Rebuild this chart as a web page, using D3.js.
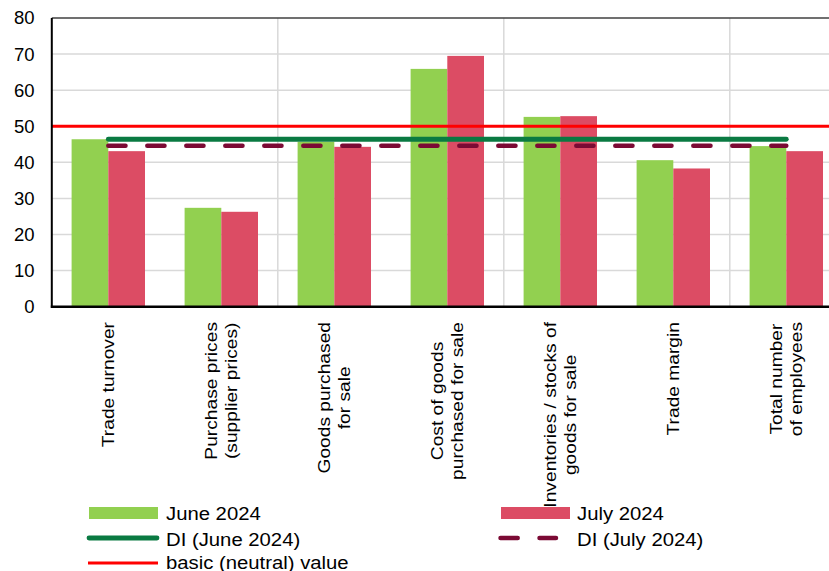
<!DOCTYPE html>
<html>
<head>
<meta charset="utf-8">
<script src="https://cdn.jsdelivr.net/npm/d3@7"></script>
<style>
  html, body { margin: 0; padding: 0; background: #fff; }
  svg { display: block; font-family: "Liberation Sans", Arial, sans-serif; }
</style>
</head>
<body>
<svg id="chart" width="829" height="571"></svg>
<script>
// ---- data ----
const categories = [
  ["Trade turnover"],
  ["Purchase prices", "(supplier prices)"],
  ["Goods purchased", "for sale"],
  ["Cost of goods", "purchased for sale"],
  ["Inventories / stocks of", "goods for sale"],
  ["Trade margin"],
  ["Total number", "of employees"]
];
const june2024 = [46.4, 27.4, 45.7, 65.9, 52.6, 40.6, 44.5];
const july2024 = [43.1, 26.3, 44.3, 69.5, 52.8, 38.3, 43.1];
const diJune = [46.4, 46.4, 46.4, 46.4, 46.4, 46.4, 46.4];
const diJuly = [44.6, 44.6, 44.6, 44.6, 44.6, 44.6, 44.6];
const neutralValue = 50;
const yTicks = [0, 10, 20, 30, 40, 50, 60, 70, 80];
const seriesNames = ["June 2024", "July 2024", "DI (June 2024)", "DI (July 2024)", "basic (neutral) value"];

// ---- styles ----
const C = {
  june: "#92d050", july: "#dc4c64", diJune: "#0a7a42", diJuly: "#7b0a34",
  neutral: "#ff0000", grid: "#d9d9d9"
};

const svg = d3.select("#chart");
const pLeft = 51.8, pTop = 18, pBottom = 306.7;
const idx = categories.map((d, i) => i);
const x = d3.scaleBand().domain(idx).range([pLeft, pLeft + 113 * categories.length]).paddingInner(0).paddingOuter(0);
const y = d3.scaleLinear().domain([0, 80]).range([pBottom, pTop]);
const barW = 36.7;
const cx = i => x(i) + x.bandwidth() / 2;

// gridlines horizontal
svg.append("g").selectAll("line").data(yTicks.filter(t => t > 0 && t < 80)).join("line")
  .attr("x1", pLeft).attr("x2", 829).attr("y1", d => y(d)).attr("y2", d => y(d))
  .attr("stroke", C.grid).attr("stroke-width", 1.5);
// vertical gridlines every 2 categories
svg.append("g").selectAll("line").data([2, 4, 6]).join("line")
  .attr("x1", d => x(d)).attr("x2", d => x(d)).attr("y1", pTop).attr("y2", pBottom)
  .attr("stroke", C.grid).attr("stroke-width", 1.5);
// top border
svg.append("line").attr("x1", pLeft).attr("x2", 829).attr("y1", y(80)).attr("y2", y(80))
  .attr("stroke", "#404040").attr("stroke-width", 1.5);

// bars
svg.append("g").selectAll("rect").data(june2024).join("rect")
  .attr("x", (d, i) => cx(i) - barW).attr("width", barW)
  .attr("y", d => y(d)).attr("height", d => y(0) - y(d)).attr("fill", C.june);
svg.append("g").selectAll("rect").data(july2024).join("rect")
  .attr("x", (d, i) => cx(i)).attr("width", barW)
  .attr("y", d => y(d)).attr("height", d => y(0) - y(d)).attr("fill", C.july);

// neutral line
svg.append("line").attr("x1", pLeft).attr("x2", 829).attr("y1", y(neutralValue)).attr("y2", y(neutralValue))
  .attr("stroke", C.neutral).attr("stroke-width", 3);

const line = d3.line().x((d, i) => cx(i)).y(d => y(d));
svg.append("path").attr("d", line(diJune)).attr("fill", "none")
  .attr("stroke", C.diJune).attr("stroke-width", 4.8).attr("stroke-linecap", "round");
svg.append("path").attr("d", line(diJuly)).attr("fill", "none")
  .attr("stroke", C.diJuly).attr("stroke-width", 4.5).attr("stroke-linecap", "round")
  .attr("stroke-dasharray", "17.2 21.8");

// axes lines
svg.append("line").attr("x1", pLeft).attr("x2", pLeft).attr("y1", pTop).attr("y2", pBottom + 1)
  .attr("stroke", "#000").attr("stroke-width", 2);
svg.append("line").attr("x1", pLeft - 1).attr("x2", 829).attr("y1", pBottom).attr("y2", pBottom)
  .attr("stroke", "#000").attr("stroke-width", 2.5);

// y tick labels
svg.append("g").selectAll("text").data(yTicks).join("text")
  .attr("x", 34.5).attr("y", d => y(d)).attr("dy", "0.35em")
  .attr("text-anchor", "end").attr("font-size", 18.5).attr("fill", "#000")
  .text(d => d);

// x category labels
const lblTop = 322, lineH = 20, sx = 1.13, lblFont = 17;
categories.forEach((lines, i) => {
  const g = svg.append("g").attr("transform", `translate(${cx(i)},${lblTop}) rotate(-90) scale(${sx},1)`);
  const texts = lines.map((t, k) => g.append("text")
    .attr("font-size", lblFont).attr("text-anchor", "middle").attr("fill", "#000")
    .attr("dy", "0.35em")
    .attr("y", (k - (lines.length - 1) / 2) * lineH)
    .text(t));
  const maxLen = d3.max(texts, t => t.node().getComputedTextLength());
  texts.forEach(t => t.attr("x", -maxLen / 2));
});

// legend
const lg = svg.append("g");
const legFont = 17.5, legSx = 1.16;
function legText(xp, yp, s) {
  lg.append("text").attr("transform", `translate(${xp},${yp}) scale(${legSx},1)`)
    .attr("font-size", legFont).attr("fill", "#000").text(s);
}
lg.append("rect").attr("x", 89).attr("y", 507).attr("width", 69).attr("height", 12).attr("fill", C.june);
legText(166, 520, seriesNames[0]);
lg.append("rect").attr("x", 501).attr("y", 507).attr("width", 69).attr("height", 12).attr("fill", C.july);
legText(577, 520, seriesNames[1]);
lg.append("line").attr("x1", 89).attr("x2", 157).attr("y1", 538).attr("y2", 538)
  .attr("stroke", C.diJune).attr("stroke-width", 4.8).attr("stroke-linecap", "round");
legText(166, 545.5, seriesNames[2]);
lg.append("line").attr("x1", 500.5).attr("x2", 556).attr("y1", 538).attr("y2", 538)
  .attr("stroke", C.diJuly).attr("stroke-width", 4.5).attr("stroke-linecap", "round")
  .attr("stroke-dasharray", "17.2 21.8");
legText(577, 545.5, seriesNames[3]);
lg.append("line").attr("x1", 88).attr("x2", 158).attr("y1", 563).attr("y2", 563)
  .attr("stroke", C.neutral).attr("stroke-width", 3);
legText(166, 569, seriesNames[4]);
</script>
</body>
</html>
